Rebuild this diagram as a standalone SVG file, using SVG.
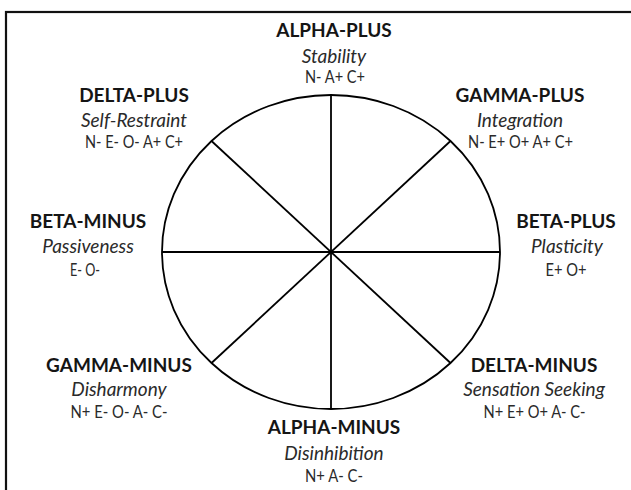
<svg xmlns="http://www.w3.org/2000/svg" width="631" height="490" viewBox="0 0 631 490">
  <style>
    text { font-family: Lato, "Open Sans", "Liberation Sans", sans-serif; text-anchor: middle; }
    .t { font-weight: bold; font-size: 19px; fill: #151515; }
    .s { font-style: italic; font-size: 19px; fill: #2a2a2a; }
    .c { font-size: 18px; fill: #2a2a2a; }
    .ln { stroke: #000; stroke-width: 1.8; fill: none; }
  </style>
  <rect x="0" y="0" width="631" height="490" fill="#fff"/>
  <rect x="6" y="12" width="640" height="500" fill="none" stroke="#111" stroke-width="2.2"/>
  <g id="wheel">
    <ellipse class="ln" cx="331" cy="252" rx="169" ry="157"/>
  </g>
  <g id="connectors">
    <line class="ln" x1="331" y1="95" x2="331" y2="409"/>
    <line class="ln" x1="162" y1="252" x2="500" y2="252"/>
    <line class="ln" x1="211.5" y1="141" x2="450.5" y2="363"/>
    <line class="ln" x1="450.5" y1="141" x2="211.5" y2="363"/>
  </g>
  <g id="alpha-plus">
    <text class="t" x="334" y="37">ALPHA-PLUS</text>
    <text class="s" x="334" y="63">Stability</text>
    <text class="c" x="335" y="83" textLength="60" lengthAdjust="spacingAndGlyphs">N- A+ C+</text>
  </g>
  <g id="delta-plus">
    <text class="t" x="134" y="102">DELTA-PLUS</text>
    <text class="s" x="134" y="127">Self-Restraint</text>
    <text class="c" x="134" y="148" textLength="98" lengthAdjust="spacingAndGlyphs">N- E- O- A+ C+</text>
  </g>
  <g id="gamma-plus">
    <text class="t" x="520" y="102">GAMMA-PLUS</text>
    <text class="s" x="520" y="127">Integration</text>
    <text class="c" x="520.5" y="148" textLength="105" lengthAdjust="spacingAndGlyphs">N- E+ O+ A+ C+</text>
  </g>
  <g id="beta-minus">
    <text class="t" x="88" y="228">BETA-MINUS</text>
    <text class="s" x="88" y="253">Passiveness</text>
    <text class="c" x="85" y="276" textLength="30" lengthAdjust="spacingAndGlyphs">E- O-</text>
  </g>
  <g id="beta-plus">
    <text class="t" x="566" y="228">BETA-PLUS</text>
    <text class="s" x="567" y="253">Plasticity</text>
    <text class="c" x="566" y="276" textLength="41" lengthAdjust="spacingAndGlyphs">E+ O+</text>
  </g>
  <g id="gamma-minus">
    <text class="t" x="119" y="372">GAMMA-MINUS</text>
    <text class="s" x="119" y="396">Disharmony</text>
    <text class="c" x="119" y="418" textLength="97" lengthAdjust="spacingAndGlyphs">N+ E- O- A- C-</text>
  </g>
  <g id="delta-minus">
    <text class="t" x="534" y="372">DELTA-MINUS</text>
    <text class="s" x="534" y="396">Sensation Seeking</text>
    <text class="c" x="534.5" y="418" textLength="102" lengthAdjust="spacingAndGlyphs">N+ E+ O+ A- C-</text>
  </g>
  <g id="alpha-minus">
    <text class="t" x="334" y="434">ALPHA-MINUS</text>
    <text class="s" x="334" y="460">Disinhibition</text>
    <text class="c" x="334" y="482" textLength="58" lengthAdjust="spacingAndGlyphs">N+ A- C-</text>
  </g>
</svg>
